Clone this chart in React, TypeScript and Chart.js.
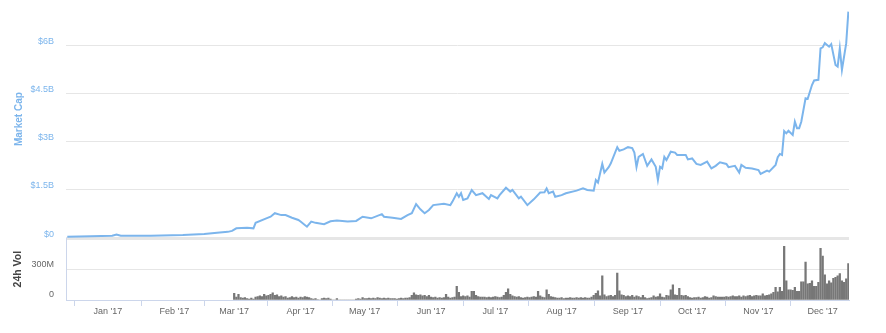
import { useEffect, useRef } from "react";
import { Chart, registerables } from "chart.js";
Chart.register(...registerables);

// Market cap samples: day offset from 1 Jan 2017, value in billions USD
const capDays = [
  -19, -8, 2, 4, 6, 20, 35, 45, 51, 56, 58, 60, 65, 68, 69, 74, 76, 78, 81, 83,
  86, 89, 90, 93, 95, 97, 101, 104, 107, 112, 116, 119, 123, 128, 129, 133, 137, 140, 142, 144,
  146, 148, 150, 152, 157, 160, 161, 163, 164, 165, 166, 168, 170, 172, 175, 178, 179, 182, 183, 186,
  188, 189, 192, 193, 196, 199, 202, 204, 205, 206, 208, 209, 212, 214, 219, 222, 224, 227, 228, 229,
  231, 232, 234, 235, 238, 239, 241, 243, 245, 246, 247, 248, 250, 252, 254, 256, 257, 258, 259, 260,
  261, 263, 265, 266, 270, 271, 273, 275, 277, 280, 282, 284, 286, 289, 290, 293, 295, 296, 298, 301,
  304, 305, 308, 309, 312, 313, 314, 315, 316, 317, 318, 320, 321, 322, 323, 324, 326, 327, 329, 330,
  332, 333, 334, 335, 337, 338, 340, 341, 342, 343, 345, 346,
];
const capValuesB = [
  0.05, 0.06, 0.08, 0.12, 0.08, 0.08, 0.1, 0.13, 0.17, 0.2, 0.23, 0.31, 0.33, 0.31, 0.48, 0.62, 0.67, 0.78, 0.72, 0.72,
  0.64, 0.57, 0.52, 0.36, 0.52, 0.48, 0.44, 0.53, 0.55, 0.52, 0.54, 0.67, 0.62, 0.75, 0.67, 0.64, 0.6, 0.72, 0.78, 1.06,
  0.9, 0.78, 0.88, 1.03, 1.07, 1.03, 1.14, 1.4, 1.29, 1.4, 1.19, 1.24, 1.5, 1.34, 1.4, 1.22, 1.34, 1.24, 1.34, 1.57,
  1.45, 1.5, 1.24, 1.29, 1.03, 1.21, 1.42, 1.43, 1.55, 1.4, 1.45, 1.29, 1.34, 1.4, 1.48, 1.55, 1.5, 1.48, 1.81, 1.73,
  2.31, 2.04, 2.21, 2.33, 2.83, 2.72, 2.76, 2.83, 2.8, 2.66, 2.21, 2.53, 2.62, 2.25, 2.45, 2.22, 1.81, 2.22, 2.17, 2.53,
  2.43, 2.69, 2.66, 2.59, 2.59, 2.45, 2.48, 2.31, 2.28, 2.38, 2.17, 2.25, 2.36, 2.31, 2.21, 2.25, 2.04, 2.28, 2.19, 2.17,
  2.12, 2.0, 2.1, 2.07, 2.28, 2.52, 2.62, 2.59, 3.33, 3.26, 3.34, 3.21, 3.62, 3.42, 3.42, 3.62, 4.35, 4.33, 4.76, 4.9,
  4.92, 5.9, 5.93, 6.06, 5.95, 6.03, 5.38, 5.33, 5.9, 5.23, 6.06, 7.04,
];

// Daily 24h volume in millions USD, starting at day 59 (1 Mar 2017)
const volStartDay = 59;
const volValuesM = [
  65, 30, 55, 25, 20, 25, 15, 10, 20, 10,
  30, 35, 40, 35, 55, 40, 45, 55, 70, 45,
  50, 35, 40, 30, 35, 20, 25, 35, 25, 30,
  20, 30, 25, 35, 30, 25, 15, 10, 15, 5,
  0, 15, 20, 15, 20, 10, 0, 0, 15, 0,
  0, 0, 0, 0, 0, 0, 0, 10, 15, 10,
  25, 15, 15, 20, 15, 20, 15, 25, 20, 15,
  20, 15, 20, 15, 15, 15, 10, 15, 20, 15,
  20, 20, 25, 45, 70, 50, 45, 50, 40, 45,
  35, 45, 30, 25, 30, 20, 25, 20, 25, 55,
  30, 20, 25, 30, 135, 75, 35, 40, 35, 40,
  30, 85, 85, 45, 35, 30, 30, 30, 25, 30,
  25, 30, 35, 30, 25, 30, 45, 75, 110, 55,
  40, 35, 30, 35, 25, 20, 25, 30, 25, 30,
  35, 30, 85, 40, 30, 25, 100, 55, 35, 30,
  25, 20, 20, 25, 15, 20, 20, 25, 20, 20,
  25, 20, 25, 20, 25, 20, 20, 30, 45, 65,
  90, 40, 240, 50, 35, 40, 45, 35, 45, 265,
  90, 50, 45, 35, 40, 35, 45, 30, 40, 35,
  25, 45, 25, 15, 20, 25, 40, 30, 35, 60,
  30, 25, 45, 40, 100, 150, 50, 45, 115, 45,
  40, 45, 35, 25, 20, 25, 25, 30, 20, 25,
  35, 30, 20, 25, 40, 35, 30, 30, 30, 30,
  35, 30, 35, 40, 35, 35, 40, 30, 40, 35,
  40, 45, 35, 40, 45, 40, 40, 60, 40, 45,
  50, 60, 75, 125, 80, 125, 85, 530, 190, 100,
  100, 95, 125, 85, 85, 180, 180, 375, 160, 165,
  190, 135, 135, 175, 510, 435, 250, 160, 190, 170,
  215, 225, 240, 260, 190, 175, 210, 360,
];

const monthStartDays = [0, 31, 59, 90, 120, 151, 181, 212, 243, 273, 304, 334];
const monthLabels = [
  "Jan '17", "Feb '17", "Mar '17", "Apr '17", "May '17", "Jun '17",
  "Jul '17", "Aug '17", "Sep '17", "Oct '17", "Nov '17", "Dec '17",
];
const capTicksB = [0, 1.5, 3, 4.5, 6];
const capTickLabels = ["$0", "$1.5B", "$3B", "$4.5B", "$6B"];
const volTicksM = [0, 300, 600];
const volTickLabels = ["0", "300M", ""];

const FONT = "'Liberation Sans', Arial, Helvetica, sans-serif";

const zeroPad = (axis: any) => {
  axis.paddingTop = 0;
  axis.paddingBottom = 0;
  axis.paddingLeft = 0;
  axis.paddingRight = 0;
};

export default function App() {
  const ref = useRef<HTMLCanvasElement>(null);
  useEffect(() => {
    const canvas = ref.current;
    if (!canvas) return;
    const capData = capDays.map((d, i) => ({ x: d, y: capValuesB[i] }));
    const volData = volValuesM.map((v, i) => ({ x: volStartDay + i, y: v }));
    const chart = new Chart(canvas, {
      type: "line",
      data: {
        datasets: [
          {
            type: "line",
            data: capData,
            xAxisID: "x",
            yAxisID: "y",
            borderColor: "#7cb5ec",
            borderWidth: 2,
            pointRadius: 0,
            tension: 0,
            fill: false,
          },
          {
            type: "bar",
            data: volData,
            xAxisID: "x",
            yAxisID: "yVol",
            backgroundColor: "#777777",
            borderWidth: 0,
            barThickness: 1.6,
          } as any,
        ],
      },
      options: {
        animation: false,
        responsive: false,
        devicePixelRatio: 1,
        layout: { padding: { left: 0, right: 37, top: 0, bottom: 0 } },
        plugins: { legend: { display: false }, tooltip: { enabled: false } },
        scales: {
          x: {
            type: "linear",
            min: -19.6,
            max: 346.3,
            offset: false,
            grid: { drawOnChartArea: false, drawTicks: true, tickLength: 6, color: "#ccd6eb" },
            border: { display: true, color: "#ccd6eb" },
            ticks: {
              autoSkip: false,
              maxRotation: 0,
              padding: 0,
              color: "#666666",
              font: { family: FONT, size: 9 },
              callback: (v: any) => monthLabels[monthStartDays.indexOf(Number(v))] ?? "",
            },
            afterBuildTicks: (axis: any) => {
              axis.ticks = monthStartDays.map((v) => ({ value: v }));
            },
            afterFit: (axis: any) => {
              axis.height = 33;
              zeroPad(axis);
            },
          },
          yVol: {
            type: "linear",
            position: "left",
            stack: "panels",
            stackWeight: 61.7,
            min: 0,
            max: 610,
            grid: { color: "#e6e6e6", drawTicks: false },
            border: { display: true, color: "#ccd6eb" },
            ticks: {
              color: "#666666",
              padding: 12,
              labelOffset: -5,
              font: { family: FONT, size: 9 },
              callback: (v: any) => volTickLabels[volTicksM.indexOf(Number(v))] ?? "",
            },
            afterBuildTicks: (axis: any) => {
              axis.ticks = volTicksM.map((v) => ({ value: v }));
            },
            afterFit: (axis: any) => {
              axis.width = 66;
              zeroPad(axis);
            },
            title: {
              display: true,
              text: "24h Vol",
              color: "#444444",
              font: { family: FONT, size: 10.5, weight: "bold" },
              padding: { top: 12, bottom: 0 },
            },
          },
          y: {
            type: "linear",
            position: "left",
            stack: "panels",
            stackWeight: 238.3,
            min: 0,
            max: 7.4,
            grid: {
              color: "#e6e6e6",
              drawTicks: false,
              lineWidth: (ctx: any) => (ctx.tick && ctx.tick.value === 0 ? 2 : 1),
            },
            border: { display: false },
            ticks: {
              color: "#7cb5ec",
              padding: 12,
              labelOffset: -4,
              font: { family: FONT, size: 9 },
              callback: (v: any) => capTickLabels[capTicksB.indexOf(Number(v))] ?? "",
            },
            afterBuildTicks: (axis: any) => {
              axis.ticks = capTicksB.map((v) => ({ value: v }));
            },
            afterFit: (axis: any) => {
              axis.width = 66;
              zeroPad(axis);
            },
            title: {
              display: true,
              text: "Market Cap",
              color: "#7cb5ec",
              font: { family: FONT, size: 10, weight: "bold" },
              padding: { top: 13, bottom: 0 },
            },
          },
        },
      } as any,
    });
    return () => chart.destroy();
  }, []);
  return (
    <div style={{ position: "fixed", left: 0, top: 0, width: 886, height: 333, background: "#fff" }}>
      <canvas ref={ref} width={886} height={333} style={{ display: "block" }} />
    </div>
  );
}
